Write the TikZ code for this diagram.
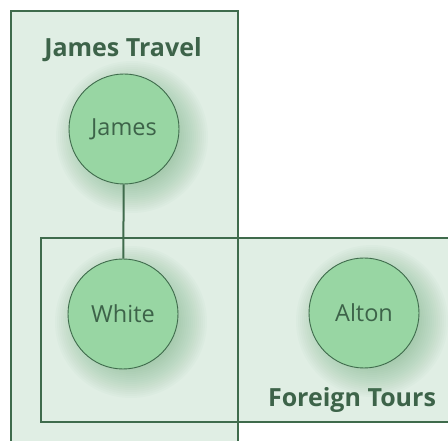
\documentclass[tikz,border=0pt]{standalone}
\usepackage{fontspec}
\setmainfont{Open Sans}
\usetikzlibrary{calc}
\definecolor{boxfill}{HTML}{E0EEE4}
\definecolor{lineg}{HTML}{3F6B4C}
\definecolor{circfill}{HTML}{98D6A3}
\definecolor{txtg}{HTML}{3D6349}
\definecolor{shadg}{HTML}{5FA56E}
\tikzset{
  x=1pt,y=1pt,
  groupbox/.style={fill=boxfill,draw=none},
  groupline/.style={draw=lineg,line width=1.2pt},
  person/.style={circle,minimum size=110pt,inner sep=0pt,fill=circfill,draw=lineg,line width=0.9pt,
    text=txtg,font=\fontsize{23.5}{26}\selectfont},
  grouptitle/.style={text=txtg,font=\bfseries\fontsize{25}{28}\selectfont,inner sep=0pt},
  link/.style={draw=lineg,line width=2pt},
  softshadow/.style={fill=shadg,fill opacity=0.03,draw=none}
}
\newcommand{\myshadow}[1]{%
  \begin{scope}
  \foreach \r in {34,36,...,76}{\path[softshadow] ($(#1)+(8,-8)$) circle (\r);}%
  \end{scope}%
}
\begin{document}
\begin{tikzpicture}
\useasboundingbox (0,0) rectangle (448,441);
\fill[white] (0,0) rectangle (448,441);
% fills
\path[groupbox] (11,430) rectangle (238,-5);
\path[groupbox] (41,203) rectangle (455,19);
% borders
\draw[groupline] (11,-5) -- (11,430) -- (238,430) -- (238,-5);
\draw[groupline] (455,203) -- (41,203) -- (41,19) -- (455,19);
\node[grouptitle] (jt) at (123,391) {James Travel};
\node[grouptitle] (ft) at (352,41) {Foreign Tours};
\coordinate (cj) at (124,312);
\coordinate (cw) at (123,127);
\coordinate (ca) at (364,128);
\myshadow{cj}
\myshadow{cw}
\myshadow{ca}
\node[person,fill opacity=1] (james) at (cj) {James};
\node[person,fill opacity=1] (white) at (cw) {White};
\node[person,fill opacity=1] (alton) at (ca) {Alton};
\draw[link] (james) -- (white);
\end{tikzpicture}
\end{document}
